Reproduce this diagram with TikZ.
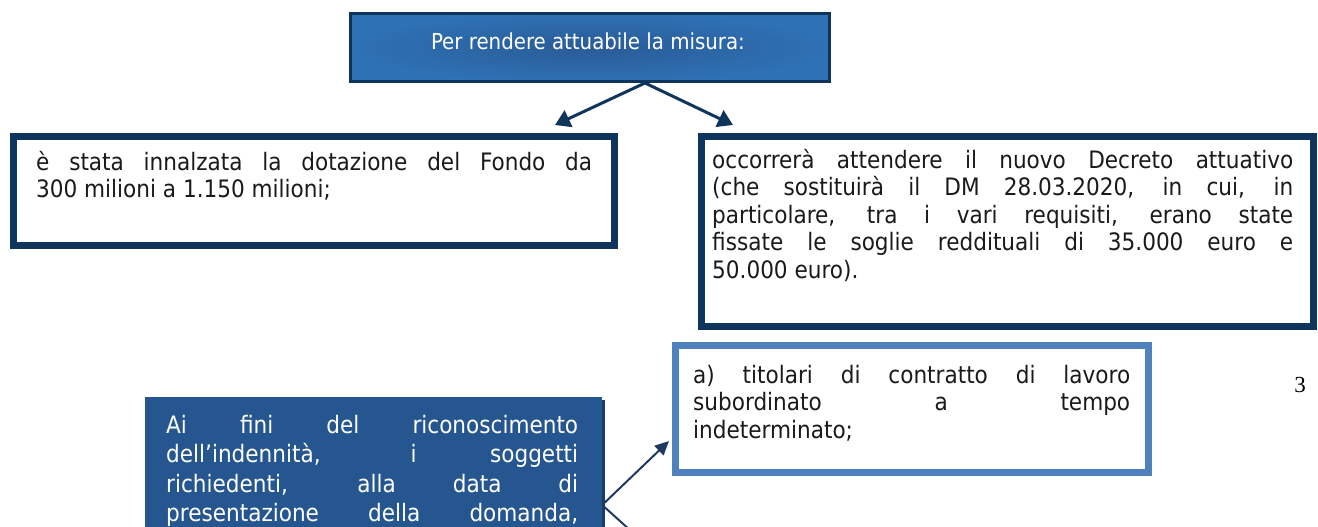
\documentclass[tikz,border=0pt]{standalone}
\usepackage{fontspec}
\setmainfont{DejaVu Sans Condensed}
\newfontfamily\numfont{Liberation Serif}
\usetikzlibrary{arrows.meta,shadows}
\definecolor{navy}{HTML}{10355C}
\definecolor{topouter}{HTML}{2E71B4}
\definecolor{topinner}{HTML}{2A5B97}
\definecolor{blfill}{HTML}{26568F}
\definecolor{blshadow}{HTML}{1B3C68}
\definecolor{arrowdark}{HTML}{1F3A60}
\definecolor{lightframe}{HTML}{4F81BD}
\definecolor{bodyblack}{HTML}{1A1A1A}
\newcommand{\bodysize}{\fontsize{24}{27.5}\selectfont}
\newcommand{\blsize}{\fontsize{24}{29.5}\selectfont}
\newcommand{\topsize}{\fontsize{22}{24}\selectfont}
\begin{document}
\begin{tikzpicture}[x=1pt,y=-1pt,
  topbox/.style={draw=navy, line width=3pt, inner color=topinner, outer color=topouter,
    minimum width=479pt, minimum height=68pt, inner sep=0pt},
  toptext/.style={anchor=base, inner sep=0pt, text=white, font=\topsize},
  darkbox/.style={draw=navy, line width=7pt, fill=white, inner sep=0pt},
  lightbox/.style={draw=lightframe, line width=7pt, fill=white, inner sep=0pt},
  bluebox/.style={fill=blfill, inner sep=0pt,
    drop shadow={shadow xshift=3pt, shadow yshift=-3pt, fill=blshadow, opacity=1}},
  bodytext/.style={anchor=north west, inner sep=0pt, align=justify, font=\bodysize, text=bodyblack},
  toparrow/.style={draw=navy, line width=3pt, -{Triangle[length=15pt,width=18pt]}},
  thinarrow/.style={draw=arrowdark, line width=2pt, -{Triangle[length=14pt,width=13pt]}}
]
\useasboundingbox (0,0) rectangle (1318,527);
\clip (0,0) rectangle (1318,527);

% top box
\node[topbox] (top) at (590,47.5) {};
\node[toptext] (toplabel) at (588,50) {Per rendere attuabile la misura:};

% left box
\node[darkbox, minimum width=601pt, minimum height=109pt] (lbox) at (314,191) {};
\node[bodytext, text width=556pt] (ltext) at (36,149)
  {\rule{0pt}{21pt}è stata innalzata la dotazione del Fondo da\linebreak
   300 milioni a 1.150 milioni;};

% right box
\node[darkbox, minimum width=612pt, minimum height=190pt] (rbox) at (1007.5,231.5) {};
\node[bodytext, text width=581pt] (rtext) at (712,147)
  {\rule{0pt}{21pt}occorrerà attendere il nuovo Decreto attuativo\linebreak
   (che sostituirà il DM 28.03.2020, in cui, in\linebreak
   particolare, tra i vari requisiti, erano state\linebreak
   fissate le soglie reddituali di 35.000 euro e\linebreak
   50.000 euro).};

% a) box
\node[lightbox, minimum width=473pt, minimum height=127pt] (abox) at (912,409) {};
\node[bodytext, text width=437pt] (atext) at (693,362)
  {\rule{0pt}{21pt}a) titolari di contratto di lavoro\linebreak
   subordinato a tempo\linebreak
   indeterminato;};

% bottom-left blue box
\node[bluebox, minimum width=457pt, minimum height=243pt] (bl) at (373.5,518.5) {};
\node[bodytext, text=white, text width=412pt, font=\blsize] (bltext) at (166,412)
  {\parfillskip=0pt\rule{0pt}{21pt}Ai fini del riconoscimento\linebreak
   dell’indennità, i soggetti\linebreak
   richiedenti, alla data di\linebreak
   presentazione della domanda,\par};

% page number
\node[font=\numfont\fontsize{23}{26}\selectfont, anchor=base, inner sep=0pt] (pnum) at (1300,392) {3};

% arrows from top box
\coordinate (tipL) at (555,125);
\coordinate (tipR) at (733,125);
\draw[toparrow] ([xshift=55pt]top.south) -- (tipL);
\draw[toparrow] ([xshift=55pt]top.south) -- (tipR);

% arrows from bottom-left box
\coordinate (tipA) at (669,441);
\coordinate (tipB) at (672,568);
\draw[thinarrow] ([yshift=13.5pt]bl.east) -- (tipA);
\draw[thinarrow] ([yshift=13.5pt]bl.east) -- (tipB);
\end{tikzpicture}
\end{document}
